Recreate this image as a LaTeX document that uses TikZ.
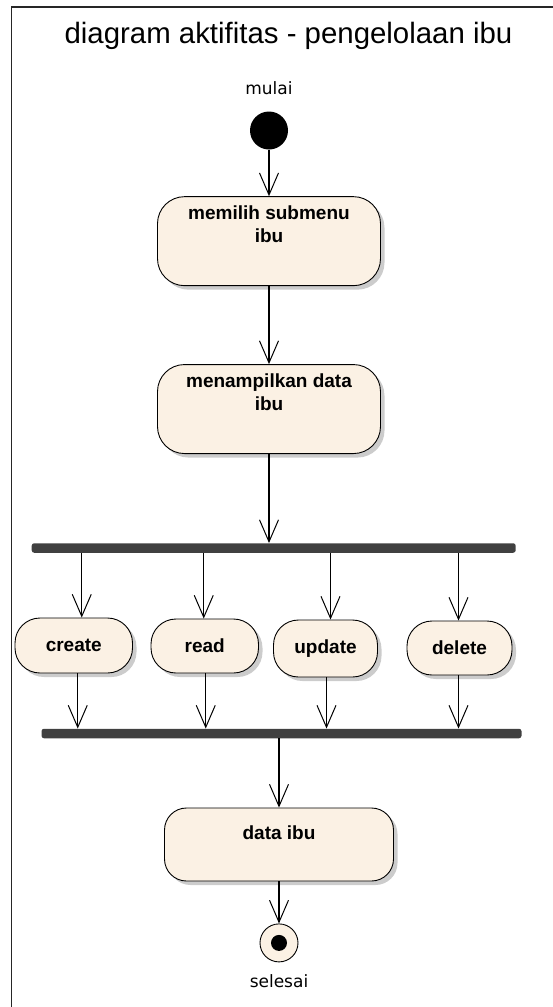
\documentclass[tikz,border=0pt]{standalone}
\usepackage{fontspec}
\setmainfont{DejaVu Sans}
\newfontfamily\titlefont{Liberation Sans}
\usetikzlibrary{arrows.meta, positioning, shadows, calc}
\definecolor{actFill}{HTML}{FBF1E4}
\definecolor{barGrey}{HTML}{404040}
% activity text sits in the upper part of the big boxes
\newcommand{\toptext}[3]{\parbox[c][#1][t]{210pt}{\centering\vspace*{#2}#3}}

\begin{document}
\begin{tikzpicture}[
    x=1pt, y=1pt,
    node distance=40pt,
]
\tikzset{
    action/.style={
        rectangle, rounded corners=27pt, draw=black, line width=0.9pt,
        fill=actFill, inner sep=0pt, align=center,
        font=\titlefont\fontsize{19}{23}\selectfont\bfseries,
        drop shadow={shadow xshift=4pt, shadow yshift=-4pt, fill=black!40, opacity=0.5},
    },
    smallaction/.style={action, rounded corners=25pt, minimum height=55pt},
    syncbar/.style={rectangle, fill=barGrey, rounded corners=2.5pt, minimum height=9.5pt, inner sep=0pt},
    startnode/.style={circle, fill=black, minimum size=38pt, inner sep=0pt},
    endnode/.style={
        circle, draw=black, line width=0.9pt, fill=actFill, minimum size=38pt, inner sep=0pt,
        path picture={\fill[black] (path picture bounding box.center) circle (8pt);},
    },
    caption/.style={font=\fontsize{17}{20}\selectfont},
    flow/.style={-{Straight Barb[length=22pt, width=19pt, line width=1pt]}, line width=1.2pt},
}

\useasboundingbox (0,0) rectangle (553,-1007);
\draw[line width=1.5pt, black!85] (11.5,-7) rectangle (566,-1020);

\node[font=\titlefont\fontsize{29.4}{34}\selectfont, anchor=base] (title) at (288.5,-43)
    {diagram aktifitas - pengelolaan ibu};

\node[caption, anchor=base] (mulai) at (269,-94) {mulai};
\node[startnode] (start) at (269,-130.5) {};

\node[action, below=46.5pt of start, minimum width=223pt, minimum height=89pt] (submenu)
    {\toptext{89pt}{9.5pt}{memilih submenu\\ibu}};
\node[action, below=78pt of submenu, minimum width=223pt, minimum height=89pt] (tampil)
    {\toptext{89pt}{9.5pt}{menampilkan data\\ibu}};

\node[syncbar, minimum width=484pt] (fork) at (273.7,-548) {};

\node[smallaction, minimum width=117.5pt] (create) at (73.75,-645.5) {create};
\node[smallaction, minimum width=107.5pt, minimum height=54pt] (read) at (204.75,-646) {read};
\node[smallaction, minimum width=104pt, minimum height=57pt] (update) at (325.5,-648.5) {update};
\node[smallaction, minimum width=105pt, minimum height=54pt] (delete) at (459.5,-648) {delete};

\node[syncbar, minimum width=480pt] (join) at (281.5,-733.5) {};

\node[action, rounded corners=22pt, minimum width=229pt, minimum height=73pt] (dataibu) at (279,-844.5)
    {\toptext{73pt}{17.5pt}{data ibu}};
\node[endnode, below=42pt of dataibu] (finish) {};
\node[caption, anchor=base] (selesai) at (279,-987) {selesai};

\draw[flow] (start) -- (submenu);
\draw[flow] (submenu) -- (tampil);
\draw[flow] (tampil.south) -- (tampil.south |- fork.north);

% the four branches do not leave the bar at the box centres
\foreach \act/\dt/\db in {create/8/4, read/-1/1, update/5/1, delete/-1/-1} {
    \draw[flow] ($(fork.south -| \act.north)+(\dt,0)$) -- ($(\act.north)+(\dt,0)$);
    \draw[flow] ($(\act.south)+(\db,0)$) -- ($(join.north -| \act.south)+(\db,0)$);
}

\draw[flow] (join.south -| dataibu.north) -- (dataibu.north);
\draw[flow] (dataibu) -- (finish);

\end{tikzpicture}
\end{document}
